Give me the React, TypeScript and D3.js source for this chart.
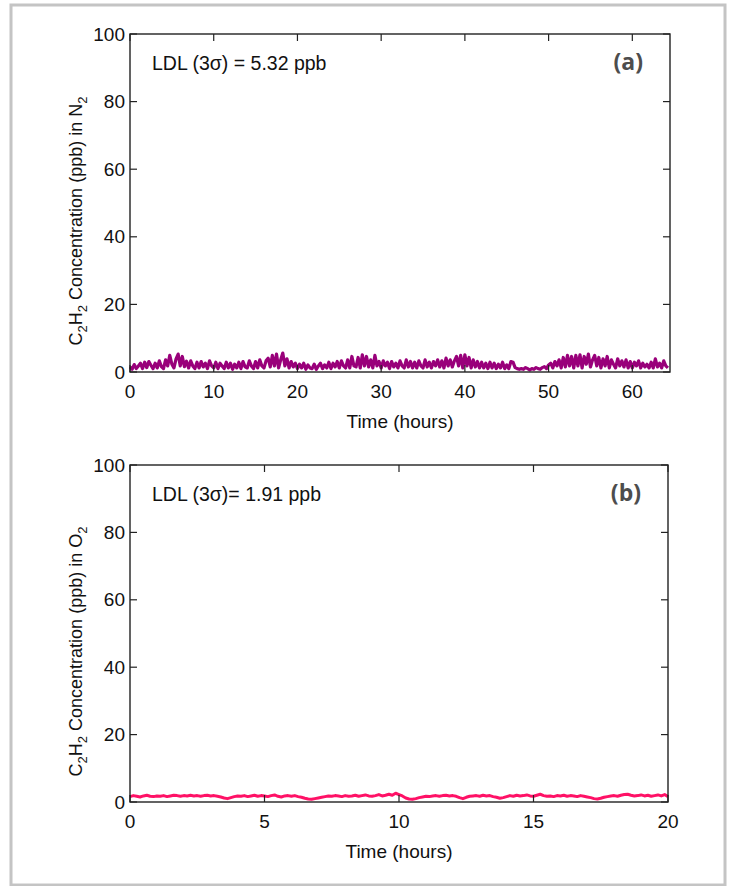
import React from "react";
import * as d3 from "d3";

// Panel (a): C2H2 in N2, sampled every 0.25 h
const stepA = 0.25;
const seriesA: number[] = [
  1.5,0.8,2.2,1.0, 1.8,2.6,1.0,2.9, 1.3,3.1,2.0,1.0, 2.6,1.2,3.3,1.6,
  1.0,3.6,1.8,4.9, 2.3,1.2,3.9,5.3, 1.8,4.6,1.6,3.2, 1.2,3.3,1.8,1.0,
  2.9,1.2,3.1,1.5, 2.6,1.0,3.3,1.8, 1.2,2.9,1.0,2.6, 1.8,1.0,2.9,1.2,
  2.6,0.8,2.3,1.2, 2.9,1.0,3.1,1.5, 1.2,3.3,1.8,1.0, 3.1,1.2,3.6,1.8,
  1.2,3.3,4.1,1.5, 4.9,1.8,5.3,1.2, 3.6,5.6,1.8,3.9, 1.2,3.1,1.5,2.6,
  1.0,2.3,1.2,2.6, 0.8,2.1,1.2,1.0, 2.3,0.8,1.8,2.6, 1.0,2.1,1.2,2.9,
  1.0,2.6,1.5,3.1, 1.2,3.3,1.8,1.2, 3.6,1.2,4.6,1.8, 1.5,4.3,1.2,5.1,
  1.8,4.6,1.5,3.6, 1.2,4.9,1.8,3.1, 1.2,3.3,1.8,2.9, 1.0,3.1,1.5,2.6,
  1.2,3.3,1.8,1.2, 3.6,1.5,3.1,1.2, 2.9,1.2,3.3,1.8, 1.2,3.6,1.5,2.9,
  1.2,3.1,1.8,3.6, 1.5,3.3,1.2,4.1, 1.8,3.6,1.5,3.3, 4.6,1.8,4.9,1.2,
  5.1,1.8,4.3,1.2, 3.6,1.5,3.1,1.2, 2.9,1.2,2.6,1.0, 2.9,1.2,2.6,1.0,
  2.3,1.2,2.9,1.0, 2.1,1.0,3.1,2.9, 1.3,1.0,0.8,1.0, 0.8,1.3,1.0,0.6,
  1.0,0.8,1.3,1.0, 0.8,1.3,1.6,1.0, 2.1,2.6,1.2,3.1, 1.8,3.6,1.2,4.3,
  1.5,4.9,1.8,4.6, 1.2,4.9,1.8,5.1, 1.2,4.6,2.3,5.3, 1.5,3.6,4.9,1.8,
  4.3,1.2,3.9,1.8, 4.6,1.2,3.6,2.3, 1.2,3.9,1.8,3.3, 1.5,3.6,1.2,3.1,
  1.2,2.9,1.8,3.3, 1.2,2.6,1.5,2.3, 1.2,2.9,1.2,3.9, 1.5,2.6,1.2,3.3,
  1.8,1.2,
];

// Panel (b): C2H2 in O2, sampled every 0.125 h
const stepB = 0.125;
const seriesB: number[] = [
  1.6,1.9,1.7,1.5,1.8,2.0,1.7,1.6,
  1.8,1.7,1.9,1.6,1.8,2.0,1.9,1.7,
  1.9,1.8,2.0,1.8,1.9,1.7,1.9,2.0,
  1.8,1.9,1.7,1.5,1.2,1.0,1.3,1.6,
  1.8,1.7,1.9,1.6,1.8,2.0,1.7,1.9,
  1.8,1.6,1.9,2.1,1.7,1.5,1.8,1.9,
  1.7,1.9,1.6,1.4,1.1,0.9,0.8,1.0,
  1.2,1.4,1.6,1.8,1.7,1.9,1.8,1.6,
  1.9,1.7,1.8,2.0,1.7,1.9,2.1,1.8,
  1.7,1.9,2.2,1.8,2.0,2.3,2.0,2.6,
  2.2,1.8,1.2,0.9,0.8,1.0,1.3,1.5,
  1.7,1.6,1.8,1.9,1.7,1.9,2.0,1.8,
  1.9,1.7,1.3,1.0,1.4,1.7,1.8,1.9,
  1.7,2.0,1.8,1.9,1.6,1.4,1.1,1.3,
  1.6,1.9,1.7,2.0,1.8,1.9,2.1,1.8,
  1.7,2.0,2.3,1.9,1.7,1.8,1.6,1.9,
  1.8,2.0,1.7,1.9,1.8,1.6,1.9,1.7,
  1.5,1.3,1.0,0.9,1.1,1.4,1.6,1.8,
  1.9,1.7,2.0,2.2,2.3,2.0,1.8,1.9,
  2.1,1.8,2.0,1.7,1.9,2.1,1.8,2.2,
  1.6,
];

const yTicks = [0, 20, 40, 60, 80, 100];
const xTicksA = [0, 10, 20, 30, 40, 50, 60];
const xTicksB = [0, 5, 10, 15, 20];

const FONT = "'Liberation Sans', Arial, sans-serif";

interface PanelProps {
  data: number[];
  step: number;
  xMax: number;
  xTicks: number[];
  left: number;
  right: number;
  top: number;
  bottom: number;
  color: string;
  width: number;
  ldl: string;
  tag: string;
  gas: string;
}

function Panel(p: PanelProps) {
  const x = d3.scaleLinear().domain([0, p.xMax]).range([p.left, p.right]);
  const y = d3.scaleLinear().domain([0, 100]).range([p.bottom, p.top]);
  const line = d3
    .line<number>()
    .x((_, i) => x(i * p.step))
    .y((d) => y(d));
  const tl = 7;
  const labelY = (p.top + p.bottom) / 2 + 18;
  return (
    <g>
      <path d={line(p.data) || ""} fill="none" stroke={p.color} strokeWidth={p.width} strokeLinejoin="round" />
      <rect x={p.left} y={p.top} width={p.right - p.left} height={p.bottom - p.top} fill="none" stroke="#222" strokeWidth={1.4} />
      {yTicks.map((t) => (
        <g key={"y" + t}>
          <line x1={p.left} x2={p.left + tl} y1={y(t)} y2={y(t)} stroke="#222" strokeWidth={1.2} />
          <line x1={p.right} x2={p.right - tl} y1={y(t)} y2={y(t)} stroke="#222" strokeWidth={1.2} />
          <text x={p.left - 5} y={y(t) + 6.5} textAnchor="end" fontSize={19} fontFamily={FONT} fill="#111">
            {t}
          </text>
        </g>
      ))}
      {p.xTicks.map((t) => (
        <g key={"x" + t}>
          <line x1={x(t)} x2={x(t)} y1={p.bottom} y2={p.bottom - tl} stroke="#222" strokeWidth={1.2} />
          <line x1={x(t)} x2={x(t)} y1={p.top} y2={p.top + tl} stroke="#222" strokeWidth={1.2} />
          <text x={x(t)} y={p.bottom + 26} textAnchor="middle" fontSize={19} fontFamily={FONT} fill="#111">
            {t}
          </text>
        </g>
      ))}
      <text x={(p.left + p.right) / 2} y={p.bottom + 56} textAnchor="middle" fontSize={19} fontFamily={FONT} fill="#111">
        Time (hours)
      </text>
      <text
        transform={`translate(82,${labelY}) rotate(-90)`}
        textAnchor="middle"
        fontSize={18}
        fontFamily={FONT}
        fill="#111"
      >
        <tspan>C</tspan>
        <tspan dy={5} fontSize={13}>2</tspan>
        <tspan dy={-5}>H</tspan>
        <tspan dy={5} fontSize={13}>2</tspan>
        <tspan dy={-5}> Concentration (ppb) in {p.gas[0]}</tspan>
        <tspan dy={5} fontSize={13}>2</tspan>
      </text>
      <text x={p.left + 22} y={p.top + 36} fontSize={19.5} fontFamily={FONT} fill="#111">
        {p.ldl}
      </text>
      <text x={p.right - 27} y={p.top + 36} textAnchor="end" fontSize={23} fontWeight="bold" fontFamily="'Open Sans', 'Noto Sans', sans-serif" fill="#4d4d4d">
        {p.tag}
      </text>
    </g>
  );
}

export default function App() {
  return (
    <svg width={732} height={886} style={{ position: "absolute", left: 0, top: 0, background: "#fff" }}>
      <rect x={0} y={0} width={732} height={886} fill="#fff" />
      <rect x={11} y={5} width={714} height={880} fill="none" stroke="#c4c4c4" strokeWidth={3} />
      <Panel
        data={seriesA}
        step={stepA}
        xMax={64.5}
        xTicks={xTicksA}
        left={130}
        right={670}
        top={34}
        bottom={372}
        color="#99007a"
        width={3.2}
        ldl="LDL (3σ) = 5.32 ppb"
        tag="(a)"
        gas="N2"
      />
      <Panel
        data={seriesB}
        step={stepB}
        xMax={20}
        xTicks={xTicksB}
        left={130}
        right={668}
        top={465}
        bottom={802}
        color="#ff1166"
        width={3}
        ldl="LDL (3σ)= 1.91 ppb"
        tag="(b)"
        gas="O2"
      />
    </svg>
  );
}
